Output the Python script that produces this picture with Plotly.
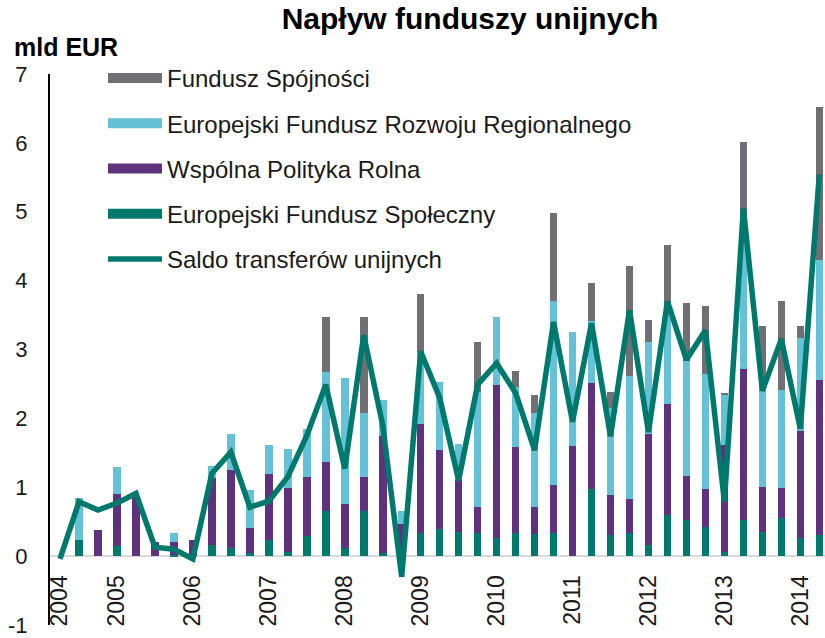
import plotly.graph_objects as go

quarters = []
for yr in range(2004, 2015):
    for q in range(1, 5):
        if (yr == 2004 and q == 1) or (yr == 2014 and q > 2):
            continue
        quarters.append(f"{yr} Q{q}")

tick_vals = ["2004 Q2"] + [f"{y} Q1" for y in range(2005, 2015)]
tick_text = [str(y) for y in range(2004, 2015)]
y_tick_vals = [-1, 0, 1, 2, 3, 4, 5, 6, 7]
y_tick_text = ["-1", "0", "1", "2", "3", "4", "5", "6", "7"]

esf = [0, 0.23, 0, 0.14, 0, 0, 0.02, 0, 0.16, 0.12, 0.04, 0.23, 0.06, 0.29, 0.65, 0.12,
       0.66, 0.05, 0, 0.33, 0.39, 0.35, 0.34, 0.27, 0.34, 0.32, 0.33, 0, 0.97, 0.30, 0.33,
       0.16, 0.59, 0.52, 0.42, 0.06, 0.52, 0.35, 0.55, 0.27, 0.30]
wpr = [0, 0, 0.38, 0.76, 0.86, 0.20, 0.18, 0.24, 0.98, 1.13, 0.37, 0.96, 0.93, 0.86, 0.71, 0.63,
       0.49, 1.70, 0.47, 1.59, 1.15, 0.75, 0.37, 2.21, 1.24, 0.39, 0.71, 1.60, 1.54, 0.59, 0.50,
       1.62, 1.62, 0.64, 0.55, 1.55, 2.20, 0.66, 0.44, 1.55, 2.25]
erdf = [0, 0.61, 0, 0.39, 0, 0, 0.13, 0, 0.17, 0.53, 0.55, 0.42, 0.56, 0.70, 1.32, 1.84,
        0.93, 0.52, 0.19, 1.05, 0.99, 0.53, 1.67, 0.99, 0.87, 1.37, 2.67, 1.65, 0.90, 1.26, 1.78,
        1.33, 1.34, 1.68, 1.67, 0.74, 2.18, 1.44, 1.42, 1.35, 1.75]
fs = [0, 0, 0, 0, 0, 0, 0, 0, 0, 0, 0, 0, 0, 0, 0.79, 0,
      1.39, 0, 0, 0.84, 0, 0, 0.73, 0, 0.24, 0.26, 1.27, 0, 0.55, 0.23, 1.60,
      0.32, 0.97, 0.84, 0.99, 0.01, 1.12, 0.89, 1.29, 0.17, 2.22]
saldo = [-0.04, 0.79, 0.67, 0.77, 0.91, 0.13, 0.10, -0.04, 1.20, 1.51, 0.71, 0.80, 1.15, 1.75, 2.49, 1.27,
         3.21, 1.90, -0.30, 2.97, 2.30, 1.10, 2.49, 2.80, 2.37, 1.54, 3.40, 1.95, 3.38, 1.74, 3.57,
         1.80, 3.70, 2.85, 3.28, 0.79, 5.05, 2.40, 3.15, 1.85, 5.54]

C_FS = "#706f74"
C_ERDF = "#65c1d6"
C_WPR = "#5f327e"
C_ESF = "#00796d"
C_LINE = "#00796d"

FONT = "Liberation Sans, Arial, sans-serif"
NARROW = "Liberation Sans Narrow, Arial Narrow, Liberation Sans, Arial, sans-serif"

fig = go.Figure()
bar_specs = [
    ("Europejski Fundusz Społeczny", esf, C_ESF),
    ("Wspólna Polityka Rolna", wpr, C_WPR),
    ("Europejski Fundusz Rozwoju Regionalnego", erdf, C_ERDF),
    ("Fundusz Spójności", fs, C_FS),
]
for name, vals, col in bar_specs:
    fig.add_trace(go.Bar(x=quarters, y=vals, name=name, marker=dict(color=col, line=dict(width=0)),
                         showlegend=False))

fig.add_trace(go.Scatter(x=quarters, y=saldo, mode="lines", name="Saldo transferów unijnych",
                         line=dict(color=C_LINE, width=5.5), showlegend=False))

# legend entries (wide symbols)
legend_specs = [
    ("Fundusz Spójności", C_FS, 14),
    ("Europejski Fundusz Rozwoju Regionalnego", C_ERDF, 14),
    ("Wspólna Polityka Rolna", C_WPR, 14),
    ("Europejski Fundusz Społeczny", C_ESF, 14),
    ("Saldo transferów unijnych", C_LINE, 5.5),
]
for i, (name, col, w) in enumerate(legend_specs):
    fig.add_trace(go.Scatter(x=[None], y=[None], mode="lines", name=name,
                             line=dict(color=col, width=w), legendrank=i + 1,
                             legendgroup=f"g{i}", showlegend=True))

TOP, BOT = 74, 13
PH = 638 - TOP - BOT

fig.update_layout(
    width=825, height=638,
    barmode="stack", bargap=0.6,
    plot_bgcolor="white", paper_bgcolor="white",
    margin=dict(l=50, r=0, t=TOP, b=BOT, autoexpand=False),
    font=dict(family=FONT, color="black", size=20),
    title=dict(text="<b>Napływ funduszy unijnych</b>", x=470 / 825, xref="container", xanchor="center",
               y=1 - 18 / 638, yref="container", yanchor="middle",
               font=dict(family=NARROW, size=30, color="black")),
    legend=dict(x=(103 - 50) / 775, y=(638 - BOT - 56) / PH, xanchor="left", yanchor="top",
                bgcolor="rgba(0,0,0,0)",
                font=dict(family=FONT, size=24, color="#1a1a1a"), itemwidth=54,
                tracegroupgap=11, traceorder="grouped"),
    xaxis=dict(type="category", categoryorder="array", categoryarray=quarters,
               range=[-0.527, 40.3], tickmode="array", tickvals=tick_vals, ticktext=tick_text,
               tickangle=-90, anchor="free", position=0.125, showline=False, showgrid=False,
               zeroline=False, ticks="outside", ticklen=9, tickcolor="rgba(0,0,0,0)", automargin=False,
               tickfont=dict(family=FONT, size=23, color="#1a1a1a")),
    yaxis=dict(range=[-1, 7], tickmode="array", tickvals=y_tick_vals, ticktext=y_tick_text,
               showgrid=False, showline=True, linecolor="black", linewidth=2,
               zeroline=True, zerolinecolor="#d9d9d9", zerolinewidth=2, automargin=False,
               ticks="outside", ticklen=16, tickcolor="rgba(0,0,0,0)", ticklabeloverflow="allow",
               tickfont=dict(family=FONT, size=22, color="#1a1a1a")),
    annotations=[dict(text="<b>mld EUR</b>", x=(12 - 50) / 775, y=(638 - BOT - 47) / PH, xref="paper",
                      yref="paper", xanchor="left", yanchor="middle", showarrow=False,
                      font=dict(family=NARROW, size=25, color="black"))],
)

fig.write_html("out.html", config={"displayModeBar": False},
               post_script="document.body.style.margin='0';")
